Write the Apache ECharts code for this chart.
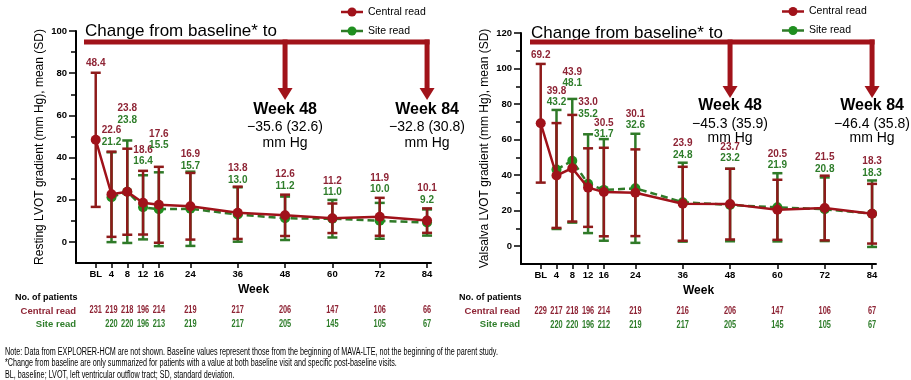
<!DOCTYPE html>
<html><head><meta charset="utf-8">
<script src="https://cdn.jsdelivr.net/npm/echarts@6/dist/echarts.min.js"></script>
<style>html,body{margin:0;padding:0;background:#fff}#c{width:911px;height:380px}</style>
</head><body><div id="c"></div>
<script>
// ---------- DATA ----------
const weeks = [0, 4, 8, 12, 16, 24, 36, 48, 60, 72, 84];
const tickLabels = ['BL', '4', '8', '12', '16', '24', '36', '48', '60', '72', '84'];

const restCentralMean = [48.4, 22.6, 23.8, 18.6, 17.6, 16.9, 13.8, 12.6, 11.2, 11.9, 10.1];
const restCentralSD   = [31.8, 20.2, 20.4, 15.1, 18.0, 15.8, 12.4,  9.8,  7.0,  9.0,  5.8];
const restSiteMean    = [null, 21.2, 23.8, 16.4, 15.5, 15.7, 13.0, 11.2, 11.0, 10.0,  9.2];
const restSiteSD      = [null, 21.3, 24.3, 15.2, 17.5, 17.6, 12.9, 10.3,  8.9,  8.5,  6.2];
const restCentralN    = [231, 219, 218, 196, 214, 219, 217, 206, 147, 106, 66];
const restSiteN       = [null, 220, 220, 196, 213, 219, 217, 205, 145, 105, 67];

const valCentralMean = [69.2, 39.8, 43.9, 33.0, 30.5, 30.1, 23.9, 23.7, 20.5, 21.5, 18.3];
const valCentralSD   = [33.4, 29.5, 30.0, 22.1, 24.9, 24.4, 20.8, 19.9, 16.9, 18.2, 16.8];
const valSiteMean    = [null, 43.2, 48.1, 35.2, 31.7, 32.6, 24.8, 23.2, 21.9, 20.8, 18.3];
const valSiteSD      = [null, 33.5, 34.8, 27.8, 28.6, 30.7, 22.2, 20.4, 19.2, 17.9, 18.7];
const valCentralN    = [229, 217, 218, 196, 214, 219, 216, 206, 147, 106, 67];
const valSiteN       = [null, 220, 220, 196, 212, 219, 217, 205, 145, 105, 67];

const arrowWeeks = [48, 84];
const restChange = ['\u221235.6 (32.6)', '\u221232.8 (30.8)'];
const valChange  = ['\u221245.3 (35.9)', '\u221246.4 (35.8)'];

const restTicks = [0, 20, 40, 60, 80, 100];
const restMinor = [10, 30, 50, 70, 90];
const valTicks = [0, 20, 40, 60, 80, 100, 120];
const valMinor = [10, 30, 50, 70, 90, 110];

const footnotes = [
  'Note: Data from EXPLORER-HCM are not shown. Baseline values represent those from the beginning of MAVA-LTE, not the beginning of the parent study.',
  '*Change from baseline are only summarized for patients with a value at both baseline visit and specific post-baseline visits.',
  'BL, baseline; LVOT, left ventricular outflow tract; SD, standard deviation.'
];

// ---------- STYLE / LAYOUT ----------
const FONT = 'Liberation Sans, Arial, sans-serif';
const RED = '#A0121A', RED_BAR = '#8E1A1A', RED_TXT = '#8E2435';
const GREEN = '#1F8F1F', GREEN_LINE = '#2F7A28', GREEN_BAR = '#2F7A28', GREEN_TXT = '#2E7D2A';
const restLift = [10, 21, 32, 21, 33, 17, 18, 20, 19, 20, 20];
const valLift  = [9, 19, 27, 32, 16, 20, 19, 22, 19, 18, 19];
const NARROW_SCALE = 0.74;
const FOOT_SCALE = 0.72;

const chart = echarts.init(document.getElementById('c'), null, {renderer: 'canvas'});

function xAxisDef(gi) {
  return {
    gridIndex: gi, type: 'value', min: -5, max: 85,
    axisLine: {show: true, onZero: false, lineStyle: {color: '#000', width: 2}},
    axisTick: {show: true, customValues: weeks, length: 5, lineStyle: {color: '#000', width: 1.5}},
    axisLabel: {customValues: weeks, formatter: v => tickLabels[weeks.indexOf(v)], color: '#000',
      fontWeight: 'bold', fontSize: 9.5, fontFamily: FONT, margin: 6},
    splitLine: {show: false},
    name: 'Week', nameLocation: 'middle', nameGap: 21,
    nameTextStyle: {fontWeight: 'bold', fontSize: 12, color: '#000', fontFamily: FONT}
  };
}
function yAxisDef(gi, max, ticks, name) {
  return {
    gridIndex: gi, type: 'value', min: -10, max: max,
    axisLine: {show: true, onZero: false, lineStyle: {color: '#000', width: 2}},
    axisTick: {show: true, customValues: ticks, length: 7, lineStyle: {color: '#000', width: 1.5}},
    axisLabel: {customValues: ticks, color: '#000', fontWeight: 'bold', fontSize: 9.5, fontFamily: FONT, margin: 9},
    splitLine: {show: false},
    name: name, nameLocation: 'middle', nameRotate: 90, nameGap: 30,
    nameTextStyle: {fontSize: 12, color: '#000', fontFamily: FONT}
  };
}
function yMinorDef(gi, max, minor) {
  return {
    gridIndex: gi, type: 'value', min: -10, max: max, position: 'left',
    axisLine: {show: false, onZero: false},
    axisTick: {show: true, customValues: minor, length: 5, lineStyle: {color: '#000', width: 1.5}},
    axisLabel: {show: false}, splitLine: {show: false}
  };
}

function errSeries(xi, yi, mean, sd, color, z) {
  const data = [];
  weeks.forEach((w, i) => { if (mean[i] != null) data.push([w, mean[i], sd[i]]); });
  return {
    type: 'custom', xAxisIndex: xi, yAxisIndex: yi, z: z, silent: true,
    encode: {x: 0, y: 1}, data: data,
    renderItem(params, api) {
      const x = api.value(0), m = api.value(1), s = api.value(2);
      const t = api.coord([x, m + s]), b = api.coord([x, m - s]);
      const hw = 5, st = {stroke: color, lineWidth: 2.5};
      return {type: 'group', children: [
        {type: 'line', shape: {x1: t[0], y1: t[1], x2: b[0], y2: b[1]}, style: st},
        {type: 'line', shape: {x1: t[0] - hw, y1: t[1], x2: t[0] + hw, y2: t[1]}, style: st},
        {type: 'line', shape: {x1: b[0] - hw, y1: b[1], x2: b[0] + hw, y2: b[1]}, style: st}
      ]};
    }
  };
}
function lineSeries(xi, yi, name, mean, lineColor, dotColor, dashed, z) {
  const data = [];
  weeks.forEach((w, i) => { if (mean[i] != null) data.push([w, mean[i]]); });
  return {
    type: 'line', name: name, xAxisIndex: xi, yAxisIndex: yi, z: z, data: data,
    symbol: 'circle', symbolSize: 10, showSymbol: true, silent: true, animation: false,
    itemStyle: {color: dotColor, borderWidth: 0},
    lineStyle: {color: lineColor, width: 2.5, type: dashed ? [7, 4] : 'solid'}
  };
}
function labelSeries(xi, yi, cM, cS, sM, sS, lifts) {
  const data = weeks.map((w, i) => {
    const top = Math.max(cM[i] + cS[i], sM[i] != null ? sM[i] + sS[i] : -1e9);
    return [w, top, i];
  });
  return {
    type: 'custom', xAxisIndex: xi, yAxisIndex: yi, z: 20, silent: true, data: data,
    encode: {x: 0, y: 1},
    renderItem(params, api) {
      const i = api.value(2);
      const p = api.coord([api.value(0), api.value(1)]);
      const y0 = p[1] - lifts[i];
      const ch = [{type: 'text', style: {text: cM[i].toFixed(1), x: p[0], y: y0, align: 'center',
        verticalAlign: 'middle', fill: RED_TXT, font: 'bold 10px ' + FONT}}];
      if (sM[i] != null) ch.push({type: 'text', style: {text: sM[i].toFixed(1), x: p[0], y: y0 + 11.5,
        align: 'center', verticalAlign: 'middle', fill: GREEN_TXT, font: 'bold 10px ' + FONT}});
      return {type: 'group', children: ch};
    }
  };
}
function narrowText(text, x, y, fill, font, align, scale) {
  return {type: 'text', x: x, y: y, scaleX: scale || NARROW_SCALE, scaleY: 1,
    style: {text: text, x: 0, y: 0, align: align || 'center', verticalAlign: 'middle', fill: fill, font: font}};
}
function countSeries(xi, yi, cN, sN) {
  return {
    type: 'custom', xAxisIndex: xi, yAxisIndex: yi, z: 20, silent: true, clip: false,
    data: weeks.map((w, i) => [w, -10, i]), encode: {x: 0, y: 1},
    renderItem(params, api) {
      const i = api.value(2);
      const p = api.coord([api.value(0), -10]);
      const ch = [narrowText(String(cN[i]), p[0], p[1] + 47, RED_TXT, 'bold 10px ' + FONT)];
      if (sN[i] != null) ch.push(narrowText(String(sN[i]), p[0], p[1] + 61, GREEN_TXT, 'bold 10px ' + FONT));
      return {type: 'group', children: ch};
    }
  };
}

const option = {
  animation: false,
  backgroundColor: '#fff',
  grid: [
    {left: 76, top: 31, width: 355, height: 232, containLabel: false},
    {left: 521, top: 33, width: 355, height: 231, containLabel: false}
  ],
  xAxis: [xAxisDef(0), xAxisDef(1)],
  yAxis: [
    yAxisDef(0, 100, restTicks, 'Resting LVOT gradient (mm Hg), mean (SD)'),
    yMinorDef(0, 100, restMinor),
    yAxisDef(1, 120, valTicks, 'Valsalva LVOT gradient (mm Hg), mean (SD)'),
    yMinorDef(1, 120, valMinor)
  ],
  series: [
    errSeries(0, 0, restSiteMean, restSiteSD, GREEN_BAR, 2),
    lineSeries(0, 0, 'Site read', restSiteMean, GREEN_LINE, GREEN, true, 3),
    errSeries(0, 0, restCentralMean, restCentralSD, RED_BAR, 4),
    lineSeries(0, 0, 'Central read', restCentralMean, RED, RED, false, 5),
    labelSeries(0, 0, restCentralMean, restCentralSD, restSiteMean, restSiteSD, restLift),
    countSeries(0, 0, restCentralN, restSiteN),
    errSeries(1, 2, valSiteMean, valSiteSD, GREEN_BAR, 2),
    lineSeries(1, 2, 'Site read', valSiteMean, GREEN_LINE, GREEN, true, 3),
    errSeries(1, 2, valCentralMean, valCentralSD, RED_BAR, 4),
    lineSeries(1, 2, 'Central read', valCentralMean, RED, RED, false, 5),
    labelSeries(1, 2, valCentralMean, valCentralSD, valSiteMean, valSiteSD, valLift),
    countSeries(1, 2, valCentralN, valSiteN)
  ]
};
chart.setOption(option);

// ---------- ANNOTATIONS (graphic) ----------
const ANN = '#A1131A';
function annotation(gridIdx, yIdx, textX, textY, barX, changes, ty) {
  const els = [];
  const xs = arrowWeeks.map(w => chart.convertToPixel({xAxisIndex: gridIdx, yAxisIndex: yIdx}, [w, 0])[0]);
  const barY = 42, tipY = ty[3];
  els.push({type: 'text', style: {text: 'Change from baseline* to', x: textX, y: textY, verticalAlign: 'middle',
    fill: '#000', font: '17px ' + FONT}});
  els.push({type: 'rect', shape: {x: barX, y: barY - 2.5, width: xs[1] + 2.5 - barX, height: 5}, style: {fill: ANN}});
  xs.forEach((x, k) => {
    els.push({type: 'rect', shape: {x: x - 2.5, y: barY - 2.5, width: 5, height: tipY - 12 - barY + 3}, style: {fill: ANN}});
    els.push({type: 'polygon', shape: {points: [[x - 7.5, tipY - 12], [x + 7.5, tipY - 12], [x, tipY]]}, style: {fill: ANN}});
    els.push({type: 'text', style: {text: 'Week ' + arrowWeeks[k], x: x, y: ty[0], align: 'center', verticalAlign: 'middle',
      fill: '#000', font: 'bold 16px ' + FONT}});
    els.push({type: 'text', style: {text: changes[k], x: x, y: ty[1], align: 'center', verticalAlign: 'middle',
      fill: '#000', font: '14px ' + FONT}});
    els.push({type: 'text', style: {text: 'mm Hg', x: x, y: ty[2], align: 'center', verticalAlign: 'middle',
      fill: '#000', font: '14px ' + FONT}});
  });
  return els;
}
function legend(cx, y1, y2) {
  const els = [];
  [[y1, RED, RED, 'Central read'], [y2, GREEN_LINE, GREEN, 'Site read']].forEach(([y, lc, dc, t]) => {
    els.push({type: 'line', shape: {x1: cx - 11, y1: y, x2: cx + 11, y2: y}, style: {stroke: lc, lineWidth: 2.5}});
    els.push({type: 'circle', shape: {cx: cx, cy: y, r: 4.5}, style: {fill: dc}});
    els.push({type: 'text', style: {text: t, x: cx + 16, y: y, verticalAlign: 'middle', fill: '#000', font: '10.5px ' + FONT}});
  });
  return els;
}
function patientsHeader(x, rightX) {
  return [
    {type: 'text', style: {text: 'No. of patients', x: x, y: 298, verticalAlign: 'middle', fill: '#000', font: 'bold 9px ' + FONT}},
    {type: 'text', style: {text: 'Central read', x: rightX, y: 311, align: 'right', verticalAlign: 'middle', fill: RED_TXT, font: 'bold 9.5px ' + FONT}},
    {type: 'text', style: {text: 'Site read', x: rightX, y: 324, align: 'right', verticalAlign: 'middle', fill: GREEN_TXT, font: 'bold 9.5px ' + FONT}}
  ];
}
let g = [];
g = g.concat(annotation(0, 0, 85, 31, 84, restChange, [110, 127, 143, 100]));
g = g.concat(annotation(1, 2, 531, 33, 530, valChange, [106, 124, 138, 98]));
g = g.concat(legend(352, 12, 31));
g = g.concat(legend(793, 11.5, 30.5));
g = g.concat(patientsHeader(15, 76));
g = g.concat(patientsHeader(459, 520));
footnotes.forEach((t, i) => g.push(narrowText(t, 5, 352 + i * 11.5, '#000', '10px ' + FONT, 'left', FOOT_SCALE)));
chart.setOption({graphic: {elements: g.map(e => Object.assign({silent: true}, e))}});
</script></body></html>
